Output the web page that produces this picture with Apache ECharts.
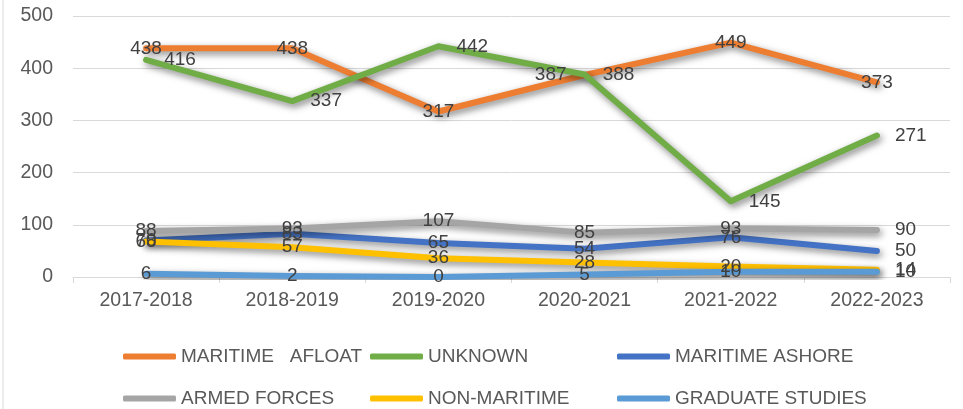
<!DOCTYPE html>
<html>
<head>
<meta charset="utf-8">
<script src="https://cdn.jsdelivr.net/npm/echarts@6/dist/echarts.min.js"></script>
<style>html,body{margin:0;padding:0;background:#fff}#c{width:963px;height:409px}</style>
</head>
<body>
<div id="c"></div>
<script>
const categories = ['2017-2018','2018-2019','2019-2020','2020-2021','2021-2022','2022-2023'];
const maritimeAfloat = [438, 438, 317, 387, 449, 373];
const unknown = [416, 337, 442, 388, 145, 271];
const maritimeAshore = [70, 83, 65, 54, 76, 50];
const armedForces = [88, 93, 107, 85, 93, 90];
const nonMaritime = [68, 57, 36, 28, 20, 14];
const graduateStudies = [6, 2, 0, 5, 10, 10];
const seriesNames = ['MARITIME   AFLOAT','UNKNOWN','MARITIME ASHORE','ARMED FORCES','NON-MARITIME','GRADUATE STUDIES'];
const yTicks = {min: 0, max: 500, interval: 100};

const colors = ['#ED7D31','#70AD47','#4472C4','#A5A5A5','#FFC000','#5B9BD5'];
const FONT = '"Liberation Sans", Arial, sans-serif';
const TXT = '#595959';

// label placement per series (by point index)
const labelPos = [
  i => i === 3 ? 'left' : 'inside',
  i => 'right',
  i => i === 5 ? 'right' : 'inside',
  i => i === 5 ? 'right' : 'inside',
  i => i === 5 ? 'right' : 'inside',
  i => i === 5 ? 'right' : 'inside'
];
const allData = [maritimeAfloat, unknown, maritimeAshore, armedForces, nonMaritime, graduateStudies];

const series = allData.map((vals, s) => ({
  name: seriesNames[s],
  type: 'line',
  symbol: 'circle',
  symbolSize: 0.1,
  showSymbol: true,
  lineStyle: {width: 6, color: colors[s], cap: 'round', join: 'round',
    shadowColor: 'rgba(0,0,0,0.5)', shadowBlur: 7, shadowOffsetX: 2, shadowOffsetY: 3},
  itemStyle: {color: colors[s]},
  emphasis: {disabled: true},
  data: vals.map((v, i) => ({value: v, label: {position: labelPos[s](i)}})),
  label: {show: true, color: '#404040', fontSize: 19, fontFamily: FONT, distance: 18}
}));

const legendPos = [[123,347],[370,347],[617,347],[123,389],[370,389],[617,389]];
const legends = seriesNames.map((n, i) => ({
  data: [{name: n, icon: 'roundRect', itemStyle: {color: colors[i]}}],
  left: legendPos[i][0], top: legendPos[i][1],
  padding: 0, itemWidth: 53, itemHeight: 6, itemGap: 0,
  selectedMode: false,
  textStyle: {color: TXT, fontSize: 19, fontFamily: FONT, padding: [0,0,0,0]}
}));

const chart = echarts.init(document.getElementById('c'), null, {renderer: 'canvas'});
chart.setOption({
  animation: false,
  color: colors,
  grid: {left: 73, right: 13, top: 16, bottom: 132, containLabel: false},
  xAxis: {
    type: 'category', data: categories, boundaryGap: true,
    axisLine: {lineStyle: {color: '#d9d9d9', width: 1}},
    axisTick: {show: true, length: 6, lineStyle: {color: '#d9d9d9'}},
    axisLabel: {color: TXT, fontSize: 19.5, fontFamily: FONT, margin: 14}
  },
  yAxis: {
    type: 'value', min: yTicks.min, max: yTicks.max, interval: yTicks.interval,
    axisLine: {show: false}, axisTick: {show: false},
    splitLine: {lineStyle: {color: '#d9d9d9', width: 1}},
    axisLabel: {color: TXT, fontSize: 19.5, fontFamily: FONT, margin: 20}
  },
  legend: legends,
  graphic: [{type: 'line', shape: {x1: 3, y1: 0, x2: 3, y2: 409}, style: {stroke: '#d9d9d9', lineWidth: 1}}],
  series: series
});
</script>
</body>
</html>
